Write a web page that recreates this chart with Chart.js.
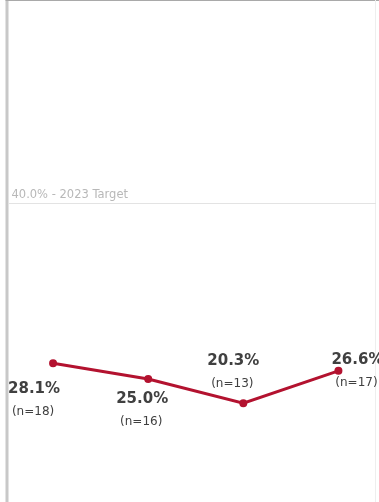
<!DOCTYPE html>
<html>
<head>
<meta charset="utf-8">
<script src="https://cdn.jsdelivr.net/npm/chart.js@4/dist/chart.umd.min.js"></script>
<style>
  html, body { margin: 0; padding: 0; background: #ffffff; overflow: hidden; }
  /* plot runs a little past the right edge of the view */
  #wrap { width: 386px; height: 502px; }
</style>
</head>
<body>
<div id="wrap"><canvas id="rateChart"></canvas></div>
<script>
// Rates per period with sample sizes
const periods = ['Period 1', 'Period 2', 'Period 3', 'Period 4'];
const rates = [28.1, 25.0, 20.3, 26.6];
const counts = [18, 16, 13, 17];
const targetRate = 40.0;
const targetName = '2023 Target';

// where each label pair sits relative to its point (px)
const labelOffsets = [
  { dx: -19, dy: 26 },
  { dx: -6, dy: 20 },
  { dx: -10, dy: -42 },
  { dx: 19, dy: -11 }
];

const lineColor = '#b3122f';
const textColor = '#404040';

// frame: grey bar on the left, thin line on top, faint line on the right
const framePlugin = {
  id: 'frame',
  beforeDraw(chart) {
    const { ctx, chartArea } = chart;
    const viewW = window.innerWidth;
    ctx.save();
    ctx.fillStyle = '#c8c8c8';
    ctx.fillRect(chartArea.left, 0, 3, chart.height);
    ctx.strokeStyle = '#a9a9a9';
    ctx.lineWidth = 1;
    ctx.beginPath();
    ctx.moveTo(chartArea.left, 0.5);
    ctx.lineTo(viewW, 0.5);
    ctx.stroke();
    ctx.strokeStyle = '#eeeeee';
    ctx.beginPath();
    ctx.moveTo(viewW - 3.5, 0);
    ctx.lineTo(viewW - 3.5, chart.height);
    ctx.stroke();
    ctx.restore();
  }
};

// target reference line with its caption
const targetPlugin = {
  id: 'targetLine',
  beforeDatasetsDraw(chart) {
    const { ctx, chartArea } = chart;
    const y = Math.round(chart.scales.yTarget.getPixelForValue(targetRate)) + 0.5;
    ctx.save();
    ctx.strokeStyle = '#e3e3e3';
    ctx.lineWidth = 1;
    ctx.beginPath();
    ctx.moveTo(chartArea.left + 3, y);
    ctx.lineTo(window.innerWidth - 3, y);
    ctx.stroke();
    ctx.fillStyle = '#b8b8b8';
    ctx.font = '11.5px "DejaVu Sans"';
    ctx.textBaseline = 'bottom';
    ctx.textAlign = 'left';
    ctx.fillText(targetRate.toFixed(1) + '% - ' + targetName, chartArea.left + 6, y - 3);
    ctx.restore();
  }
};

// value + sample size labels next to each point
const pointLabelPlugin = {
  id: 'pointLabels',
  afterDatasetsDraw(chart) {
    const { ctx } = chart;
    const meta = chart.getDatasetMeta(0);
    ctx.save();
    ctx.fillStyle = textColor;
    ctx.textAlign = 'center';
    ctx.textBaseline = 'middle';
    meta.data.forEach((pt, i) => {
      const off = labelOffsets[i];
      const x = pt.x + off.dx;
      const y = pt.y + off.dy;
      ctx.font = 'bold 15px "DejaVu Sans"';
      ctx.fillText(rates[i].toFixed(1) + '%', x, y);
      ctx.font = '12px "DejaVu Sans"';
      ctx.fillText('(n=' + counts[i] + ')', x - 1, y + 23);
    });
    ctx.restore();
  }
};

new Chart(document.getElementById('rateChart'), {
  type: 'line',
  data: {
    labels: periods,
    datasets: [{
      data: rates,
      borderColor: lineColor,
      backgroundColor: lineColor,
      borderWidth: 3,
      pointRadius: 2.5,
      pointHoverRadius: 2.5,
      tension: 0
    }]
  },
  options: {
    responsive: true,
    maintainAspectRatio: false,
    animation: false,
    layout: { autoPadding: false, padding: { left: 5.5, right: 0, top: 0, bottom: 0 } },
    plugins: {
      legend: { display: false },
      tooltip: { enabled: false }
    },
    scales: {
      x: { display: false, offset: true },
      y: { display: false, min: 1, max: 99 },
      yTarget: { type: 'linear', axis: 'y', position: 'right', display: false, min: 0, max: 67.2 }
    }
  },
  plugins: [framePlugin, targetPlugin, pointLabelPlugin]
});
</script>
</body>
</html>
